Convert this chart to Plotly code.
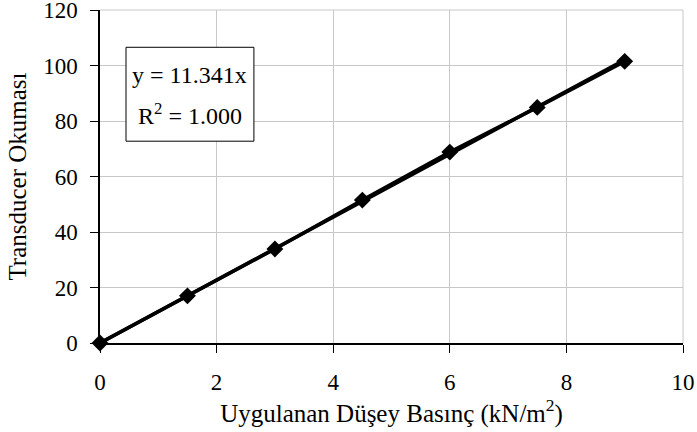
import numpy as np
import plotly.graph_objects as go

x_vals = [0, 1.5, 3, 4.5, 6, 7.5, 9]
y_vals = [0, 17.0, 33.9, 51.5, 68.8, 84.9, 101.5]
x_ticks = [0, 2, 4, 6, 8, 10]
y_ticks = [0, 20, 40, 60, 80, 100, 120]

xa = np.array(x_vals)
ya = np.array(y_vals)
slope = float((xa * ya).sum() / (xa * xa).sum())
trend_x = [min(x_vals), max(x_vals)]
trend_y = [slope * v for v in trend_x]

FONT = "Liberation Serif, Times New Roman, serif"

fig = go.Figure()
fig.add_trace(go.Scatter(x=trend_x, y=trend_y, mode="lines",
                         line=dict(color="black", width=3.5), showlegend=False))
fig.add_trace(go.Scatter(x=x_vals, y=y_vals, mode="lines+markers",
                         line=dict(color="black", width=3.5),
                         marker=dict(symbol="diamond", size=13, color="black"),
                         showlegend=False, cliponaxis=False))

fig.update_layout(
    width=697, height=432,
    margin=dict(l=100, r=14, t=10, b=89),
    paper_bgcolor="white", plot_bgcolor="white",
    font=dict(family=FONT, size=23, color="black"),
    xaxis=dict(range=[0, 10], tickvals=x_ticks, ticks="outside", ticklen=8,
               tickcolor="black", showline=True, linecolor="black", linewidth=1.5,
               showgrid=True, gridcolor="#c8c8c8", gridwidth=1, zeroline=False,
               tickfont=dict(size=23, color="black"), ticklabelstandoff=10,
               ticklabeloverflow="allow", automargin=False,
               title=dict(text="Uygulanan Düşey Basınç (kN/m<sup>2</sup>)",
                          font=dict(size=25, color="black"), standoff=1)),
    yaxis=dict(range=[0, 120], tickvals=y_ticks, ticks="outside", ticklen=8,
               tickcolor="black", showline=True, linecolor="black", linewidth=1.5,
               showgrid=True, gridcolor="#c8c8c8", gridwidth=1, zeroline=False,
               tickfont=dict(size=23, color="black"), ticklabelstandoff=8,
               ticklabeloverflow="allow", automargin=False,
               title=dict(text="Transducer Okuması", font=dict(size=25, color="black"),
                          standoff=9)),
)

# plot frame top/right in light gray
fig.add_shape(type="line", xref="paper", yref="paper", x0=0, x1=1, y0=1, y1=1,
              line=dict(color="#c8c8c8", width=1))
fig.add_shape(type="line", xref="paper", yref="paper", x0=1, x1=1, y0=0, y1=1,
              line=dict(color="#c8c8c8", width=1))

# equation box
fig.add_shape(type="rect", xref="paper", yref="paper",
              x0=0.0446, x1=0.264, y0=0.606, y1=0.888,
              line=dict(color="black", width=1), fillcolor="white", layer="above")
fig.add_annotation(xref="paper", yref="paper", x=0.154, y=0.804,
                   xanchor="center", yanchor="middle",
                   text=f"y = {slope:.3f}x", showarrow=False,
                   font=dict(size=24, family=FONT, color="black"))
fig.add_annotation(xref="paper", yref="paper", x=0.154, y=0.687,
                   xanchor="center", yanchor="middle",
                   text="R<sup>2</sup> = 1.000", showarrow=False,
                   font=dict(size=24, family=FONT, color="black"))

fig.write_html("out.html", config={"displayModeBar": False},
               post_script="document.body.style.margin='0';document.body.style.padding='0';")
